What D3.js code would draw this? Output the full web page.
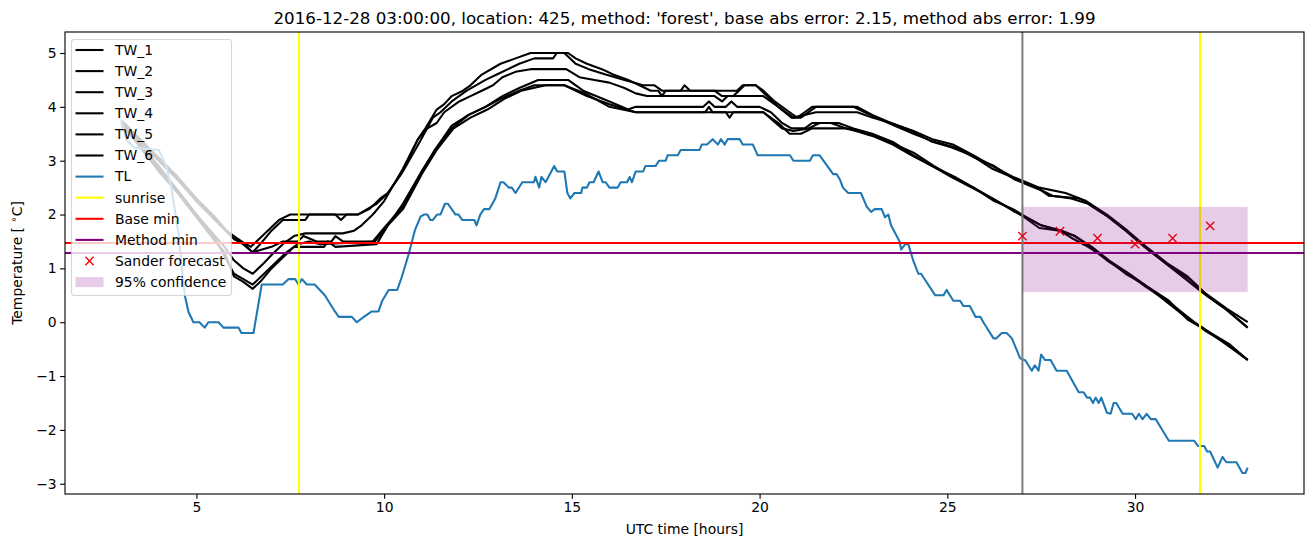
<!DOCTYPE html>
<html><head><meta charset="utf-8">
<script src="https://cdn.jsdelivr.net/npm/d3@7"></script>
<style>
body{margin:0;background:#fff}
svg text{font-family:"DejaVu Sans",sans-serif;fill:#000}
</style>
</head><body>
<svg id="chart" width="1313" height="547"></svg>
<script>
// ---------------- data ----------------
const titleText = "2016-12-28 03:00:00, location: 425, method: 'forest', base abs error: 2.15, method abs error: 1.99";
const xTicks = [5, 10, 15, 20, 25, 30];
const yTicks = [-3, -2, -1, 0, 1, 2, 3, 4, 5];

const tw1 = [[3.0,3.75],[3.5,3.4],[4.0,3.05],[4.5,2.7],[5.0,2.3],[5.5,1.95],[5.8,1.7],[6.0,1.6],[6.2,1.5],[6.45,1.4],[6.6,1.5],[6.9,1.7],[7.2,1.9],[7.5,2.0],[8.7,2.0],[8.85,1.9],[9.0,2.0],[9.3,2.0],[9.6,2.1],[9.9,2.3],[10.1,2.4],[10.45,2.75],[10.9,3.4],[11.1,3.6],[11.4,3.95],[11.6,4.05],[11.8,4.2],[12.1,4.3],[12.3,4.4],[12.6,4.6],[13.1,4.8],[13.5,4.9],[13.9,5.0],[14.8,5.0],[15.1,4.8],[15.45,4.7],[15.9,4.6],[16.4,4.5],[16.9,4.4],[17.2,4.4],[17.4,4.3],[17.9,4.3],[18.0,4.4],[18.15,4.3],[19.4,4.3],[19.55,4.4],[19.9,4.4],[20.1,4.3],[20.4,4.1],[20.8,3.9],[21.0,3.8],[21.2,3.9],[21.4,4.0],[22.6,4.0],[23.0,3.85],[23.5,3.7],[24.1,3.55],[24.6,3.4],[25.15,3.3],[25.7,3.1],[26.2,2.9],[26.75,2.7],[27.1,2.6],[27.45,2.5],[28.15,2.4],[28.7,2.25],[29.25,2.0],[29.8,1.7],[30.3,1.4],[30.85,1.1],[31.4,0.85],[31.85,0.55],[32.45,0.25],[33.0,0.0]];
const tw2 = [[3.0,3.7],[3.5,3.35],[4.0,3.0],[4.5,2.65],[5.0,2.25],[5.5,1.9],[6.0,1.55],[6.25,1.45],[6.5,1.3],[6.7,1.45],[7.0,1.7],[7.3,1.9],[7.9,1.9],[8.0,2.0],[9.3,2.0],[9.55,2.1],[9.8,2.2],[10.1,2.4],[10.5,2.8],[10.95,3.35],[11.3,3.8],[11.5,3.9],[11.8,4.1],[12.2,4.3],[12.7,4.5],[13.0,4.6],[13.3,4.7],[13.6,4.8],[14.0,4.9],[14.5,4.9],[14.6,5.0],[14.9,5.0],[15.1,4.9],[15.4,4.8],[15.8,4.7],[16.1,4.6],[16.5,4.5],[16.8,4.4],[17.1,4.3],[17.3,4.3],[17.4,4.2],[17.5,4.3],[18.8,4.3],[19.0,4.2],[19.3,4.2],[19.45,4.3],[19.6,4.4],[19.9,4.4],[20.2,4.2],[20.5,4.0],[20.85,3.8],[21.1,3.8],[21.5,4.0],[22.5,4.0],[22.8,3.9],[23.1,3.8],[23.6,3.65],[24.1,3.5],[24.65,3.35],[25.2,3.25],[25.75,3.05],[26.25,2.9],[26.8,2.65],[27.15,2.55],[27.5,2.45],[27.8,2.35],[28.3,2.3],[28.75,2.2],[29.3,1.95],[29.85,1.65],[30.35,1.35],[30.9,1.05],[31.45,0.8],[31.9,0.5],[32.5,0.2],[33.0,-0.1]];
const tw3 = [[3.0,3.65],[3.5,3.3],[4.0,2.9],[4.5,2.45],[5.0,2.0],[5.5,1.6],[5.75,1.4],[6.0,1.15],[6.25,1.0],[6.5,0.9],[6.8,1.1],[7.0,1.25],[7.3,1.45],[7.6,1.6],[7.9,1.65],[8.9,1.65],[9.2,1.7],[9.4,1.8],[9.7,2.0],[10.0,2.25],[10.5,2.85],[10.9,3.4],[11.15,3.6],[11.4,3.7],[11.6,3.9],[12.0,4.1],[12.3,4.2],[12.6,4.3],[12.9,4.4],[13.15,4.55],[13.5,4.65],[13.9,4.7],[14.85,4.7],[15.2,4.55],[15.6,4.5],[16.0,4.45],[16.4,4.35],[16.7,4.25],[17.0,4.2],[18.8,4.2],[19.0,4.1],[19.15,4.2],[20.1,4.2],[20.5,4.0],[20.9,3.8],[21.2,3.85],[21.5,3.9],[22.6,3.9],[23.0,3.8],[23.5,3.7],[24.05,3.55],[24.6,3.35],[25.1,3.25],[25.65,3.1],[26.2,2.85],[26.7,2.7],[27.05,2.6],[27.4,2.5],[27.7,2.35],[28.5,2.3],[28.65,2.25],[29.2,2.0],[29.75,1.7],[30.25,1.4],[30.8,1.1],[31.35,0.8],[31.8,0.55],[32.4,0.25],[33.0,-0.1]];
const tw4 = [[3.0,3.75],[3.5,3.4],[4.0,3.0],[4.5,2.65],[5.0,2.25],[5.5,1.9],[6.0,1.55],[6.25,1.45],[6.5,1.3],[6.75,1.35],[7.0,1.4],[7.3,1.5],[7.7,1.5],[7.85,1.6],[8.2,1.5],[8.6,1.5],[8.7,1.6],[8.9,1.5],[9.7,1.5],[10.0,1.75],[10.5,2.15],[11.0,2.8],[11.35,3.2],[11.8,3.6],[12.25,3.85],[12.7,4.0],[13.15,4.2],[13.6,4.35],[14.1,4.5],[14.9,4.5],[15.3,4.3],[16.0,4.1],[16.5,3.95],[16.7,4.0],[18.5,4.0],[18.65,4.1],[18.8,4.0],[19.1,4.0],[19.25,4.1],[19.4,4.0],[20.0,4.0],[20.3,3.9],[20.6,3.7],[20.85,3.6],[21.2,3.6],[21.4,3.7],[21.9,3.7],[22.3,3.6],[22.85,3.5],[23.1,3.45],[23.6,3.3],[24.1,3.15],[24.65,2.9],[25.15,2.7],[25.7,2.5],[26.25,2.25],[26.75,2.1],[27.1,1.95],[27.5,1.8],[28.0,1.7],[28.4,1.6],[28.8,1.4],[29.25,1.15],[29.8,0.9],[30.3,0.65],[30.85,0.4],[31.4,0.1],[31.85,-0.15],[32.45,-0.4],[33.0,-0.7]];
const tw5 = [[3.0,3.7],[3.5,3.25],[4.0,2.8],[4.5,2.4],[5.0,1.95],[5.5,1.5],[5.75,1.3],[6.0,0.85],[6.25,0.75],[6.5,0.62],[6.7,0.75],[7.0,1.0],[7.3,1.2],[7.6,1.4],[8.4,1.4],[8.5,1.5],[8.7,1.4],[9.8,1.45],[10.1,1.8],[10.5,2.1],[11.0,2.75],[11.4,3.2],[11.85,3.6],[12.3,3.8],[12.75,3.95],[13.2,4.15],[13.65,4.3],[14.3,4.4],[14.8,4.4],[15.4,4.2],[16.0,4.05],[16.7,3.9],[19.1,3.9],[19.2,3.8],[19.3,3.9],[20.1,3.9],[20.5,3.7],[20.8,3.5],[21.1,3.5],[21.4,3.6],[22.4,3.6],[22.8,3.5],[23.05,3.45],[23.55,3.3],[24.05,3.1],[24.6,2.9],[25.1,2.7],[25.65,2.5],[26.2,2.3],[26.7,2.1],[27.05,1.95],[27.45,1.75],[28.0,1.7],[28.35,1.55],[28.75,1.4],[29.2,1.2],[29.75,0.9],[30.25,0.7],[30.8,0.4],[31.35,0.1],[31.8,-0.1],[32.4,-0.4],[33.0,-0.7]];
const tw6 = [[3.0,3.72],[3.5,3.3],[4.0,2.85],[4.5,2.45],[5.0,2.0],[5.5,1.55],[6.0,0.9],[6.25,0.8],[6.5,0.7],[6.8,0.9],[7.1,1.1],[7.4,1.3],[7.7,1.45],[8.0,1.5],[8.3,1.45],[9.75,1.5],[10.05,1.75],[10.5,2.2],[11.0,2.8],[11.4,3.25],[11.8,3.65],[12.25,3.85],[12.7,4.0],[13.1,4.15],[13.6,4.3],[14.0,4.4],[14.8,4.4],[15.35,4.25],[16.0,4.0],[16.7,3.9],[18.55,3.9],[18.65,4.0],[18.75,3.9],[20.1,3.9],[20.6,3.6],[20.9,3.55],[21.3,3.6],[21.6,3.7],[22.1,3.7],[22.5,3.6],[23.0,3.5],[23.55,3.35],[24.1,3.1],[24.6,2.9],[25.2,2.7],[25.7,2.5],[26.2,2.3],[26.8,2.05],[27.1,1.95],[27.5,1.8],[28.05,1.7],[28.4,1.6],[28.85,1.4],[29.3,1.15],[29.85,0.9],[30.35,0.65],[30.9,0.4],[31.4,0.05],[31.9,-0.15],[32.5,-0.4],[33.0,-0.7]];
const tl = [[3.0,3.76],[3.13,3.39],[3.35,3.24],[4.0,3.2],[4.2,2.89],[4.33,2.51],[4.52,1.66],[4.65,0.72],[4.7,0.47],[4.79,0.19],[4.92,0.0],[5.08,0.0],[5.22,-0.1],[5.32,0.0],[5.59,0.0],[5.72,-0.1],[6.12,-0.1],[6.2,-0.2],[6.52,-0.2],[6.74,0.7],[6.95,0.7],[7.3,0.7],[7.45,0.8],[7.63,0.8],[7.72,0.7],[7.81,0.8],[7.94,0.7],[8.15,0.7],[8.42,0.5],[8.69,0.2],[8.79,0.1],[9.14,0.1],[9.27,0.0],[9.46,0.1],[9.67,0.2],[9.85,0.2],[9.95,0.4],[10.12,0.6],[10.35,0.6],[10.47,0.84],[10.66,1.28],[10.82,1.71],[10.97,1.96],[11.06,2.0],[11.15,2.0],[11.23,1.9],[11.3,1.9],[11.41,2.0],[11.5,2.0],[11.62,2.2],[11.7,2.2],[11.9,2.0],[11.98,2.0],[12.08,1.9],[12.4,1.9],[12.46,1.8],[12.56,2.0],[12.66,2.1],[12.8,2.1],[12.96,2.3],[13.1,2.6],[13.18,2.6],[13.32,2.5],[13.4,2.5],[13.5,2.4],[13.68,2.6],[13.99,2.6],[14.03,2.7],[14.13,2.5],[14.19,2.7],[14.3,2.6],[14.53,2.9],[14.61,2.8],[14.8,2.8],[14.88,2.4],[14.96,2.3],[15.07,2.4],[15.25,2.4],[15.28,2.5],[15.4,2.5],[15.47,2.6],[15.58,2.6],[15.71,2.8],[15.82,2.6],[15.9,2.6],[16.0,2.5],[16.22,2.5],[16.3,2.6],[16.47,2.6],[16.54,2.7],[16.6,2.6],[16.7,2.8],[16.9,2.8],[16.96,2.9],[17.23,2.9],[17.32,3.0],[17.5,3.0],[17.55,3.1],[17.82,3.1],[17.9,3.2],[18.4,3.2],[18.46,3.3],[18.6,3.3],[18.75,3.4],[18.89,3.3],[18.97,3.4],[19.07,3.3],[19.15,3.4],[19.47,3.4],[19.55,3.3],[19.82,3.3],[19.95,3.1],[20.81,3.1],[20.9,3.0],[21.34,3.0],[21.42,3.1],[21.6,3.1],[21.7,3.0],[21.96,2.75],[22.05,2.75],[22.14,2.65],[22.22,2.5],[22.36,2.4],[22.7,2.4],[22.85,2.15],[22.97,2.05],[23.07,2.1],[23.25,2.1],[23.34,1.95],[23.43,2.0],[23.5,1.8],[23.73,1.5],[23.77,1.35],[23.88,1.45],[23.96,1.45],[24.09,1.15],[24.23,0.9],[24.3,0.9],[24.68,0.5],[24.9,0.5],[24.98,0.6],[25.16,0.4],[25.34,0.4],[25.43,0.3],[25.6,0.3],[25.75,0.1],[25.88,0.1],[25.96,0.0],[26.23,-0.3],[26.3,-0.3],[26.45,-0.2],[26.58,-0.2],[26.72,-0.3],[26.94,-0.67],[27.08,-0.71],[27.25,-0.9],[27.33,-0.8],[27.43,-0.9],[27.5,-0.6],[27.6,-0.7],[27.75,-0.7],[27.91,-0.9],[28.18,-0.9],[28.5,-1.3],[28.63,-1.3],[28.72,-1.4],[28.8,-1.4],[28.88,-1.5],[28.95,-1.4],[29.03,-1.5],[29.1,-1.4],[29.25,-1.68],[29.35,-1.7],[29.43,-1.5],[29.5,-1.5],[29.67,-1.7],[29.92,-1.7],[30.02,-1.8],[30.1,-1.7],[30.2,-1.8],[30.31,-1.7],[30.42,-1.8],[30.55,-1.8],[30.69,-1.96],[30.9,-2.2],[31.57,-2.2],[31.68,-2.3],[31.84,-2.3],[31.92,-2.4],[32.0,-2.4],[32.2,-2.7],[32.33,-2.5],[32.43,-2.6],[32.7,-2.6],[32.86,-2.8],[32.94,-2.8],[33.0,-2.7]];

const sunriseHours = [7.73, 31.73];
const baseMin = 1.47;
const methodMin = 1.285;
const forecastHour = 27;
const sanderHours = [27, 28, 29, 30, 31, 32];
const sanderValues = [1.60, 1.69, 1.56, 1.45, 1.56, 1.79];
const confHours = [27, 33];
const confRange = [0.56, 2.14];

const legendLabels = ["TW_1","TW_2","TW_3","TW_4","TW_5","TW_6","TL","sunrise","Base min","Method min","Sander forecast","95% confidence"];

// ---------------- drawing ----------------
const svg = d3.select("#chart");
const L = 65, R = 1304, T = 32, B = 494;
const LW = 2.08;
const x = d3.scaleLinear().domain([1.5, 34.5]).range([L, R]);
const y = d3.scaleLinear().domain([-3.19, 5.39]).range([B, T]);

svg.append("defs").append("clipPath").attr("id","clip")
  .append("rect").attr("x",L).attr("y",T).attr("width",R-L).attr("height",B-T);
const plot = svg.append("g").attr("clip-path","url(#clip)");

const line = d3.line().x(d => x(d[0])).y(d => y(d[1]));
const twSeries = [tw1, tw2, tw3, tw4, tw5, tw6];
twSeries.forEach(s => {
  plot.append("path").datum(s).attr("d", line)
    .attr("fill","none").attr("stroke","#000").attr("stroke-width",LW)
    .attr("stroke-linejoin","round");
});
plot.append("path").datum(tl).attr("d", line)
  .attr("fill","none").attr("stroke","#1f77b4").attr("stroke-width",LW)
  .attr("stroke-linejoin","round");

sunriseHours.forEach(h => {
  plot.append("line").attr("x1",x(h)).attr("x2",x(h)).attr("y1",T).attr("y2",B)
    .attr("stroke","#ffff00").attr("stroke-width",LW);
});
plot.append("line").attr("x1",L).attr("x2",R).attr("y1",y(baseMin)).attr("y2",y(baseMin))
  .attr("stroke","#ff0000").attr("stroke-width",LW);
plot.append("line").attr("x1",L).attr("x2",R).attr("y1",y(methodMin)).attr("y2",y(methodMin))
  .attr("stroke","#800080").attr("stroke-width",LW);
plot.append("line").attr("x1",x(forecastHour)).attr("x2",x(forecastHour)).attr("y1",T).attr("y2",B)
  .attr("stroke","#808080").attr("stroke-width",LW);

const mk = 4.17;
sanderHours.forEach((h,i) => {
  const cx = x(h), cy = y(sanderValues[i]);
  plot.append("path").attr("d",`M${cx-mk},${cy-mk}L${cx+mk},${cy+mk}M${cx-mk},${cy+mk}L${cx+mk},${cy-mk}`)
    .attr("stroke","#ff0000").attr("stroke-width",1.39).attr("fill","none");
});
plot.append("rect").attr("x",x(confHours[0])).attr("width",x(confHours[1])-x(confHours[0]))
  .attr("y",y(confRange[1])).attr("height",y(confRange[0])-y(confRange[1]))
  .attr("fill","#800080").attr("fill-opacity",0.2);

// axes
const xAxis = svg.append("g").attr("transform",`translate(0,${B})`)
  .call(d3.axisBottom(x).tickValues(xTicks).tickSize(4.86).tickPadding(3.5).tickFormat(d3.format("d")));
const yAxis = svg.append("g").attr("transform",`translate(${L},0)`)
  .call(d3.axisLeft(y).tickValues(yTicks).tickSize(4.86).tickPadding(3.5).tickFormat(d => d < 0 ? "\u2212" + Math.abs(d) : String(d)));
[xAxis, yAxis].forEach(a => {
  a.select(".domain").remove();
  a.selectAll(".tick line").attr("stroke","#000").attr("stroke-width",1.11);
  a.selectAll(".tick text").attr("font-size","13.9px").attr("font-family","DejaVu Sans").attr("fill","#000");
});
svg.append("rect").attr("x",L).attr("y",T).attr("width",R-L).attr("height",B-T)
  .attr("fill","none").attr("stroke","#000").attr("stroke-width",1.11);

// labels
svg.append("text").attr("x",(L+R)/2).attr("y",24).attr("text-anchor","middle")
  .attr("font-size","16.7px").text(titleText);
svg.append("text").attr("x",(L+R)/2).attr("y",534).attr("text-anchor","middle")
  .attr("font-size","13.9px").text("UTC time [hours]");
const yl = svg.append("text").attr("transform",`translate(22,${(T+B)/2}) rotate(-90)`)
  .attr("text-anchor","middle").attr("font-size","13.9px");
yl.append("tspan").text("Temperature [ ");
yl.append("tspan").attr("dy",-5).attr("font-size","10px").text("\u2218");
yl.append("tspan").attr("dy",5).text("C]");

// legend
const lg = svg.append("g");
lg.append("rect").attr("x",71.5).attr("y",39.5).attr("width",160).attr("height",256).attr("rx",3)
  .attr("fill","#fff").attr("fill-opacity",0.8).attr("stroke","#cccccc").attr("stroke-opacity",0.8).attr("stroke-width",1.11);
const rowY0 = 50, rowDy = 21.1;
const lineColors = ["#000","#000","#000","#000","#000","#000","#1f77b4","#ffff00","#ff0000","#800080"];
legendLabels.forEach((lab,i) => {
  const cy = rowY0 + i*rowDy;
  if (i < 10) {
    lg.append("line").attr("x1",75.5).attr("x2",103.5).attr("y1",cy).attr("y2",cy)
      .attr("stroke",lineColors[i]).attr("stroke-width",LW);
  } else if (i === 10) {
    const cx = 89.5;
    lg.append("path").attr("d",`M${cx-mk},${cy-mk}L${cx+mk},${cy+mk}M${cx-mk},${cy+mk}L${cx+mk},${cy-mk}`)
      .attr("stroke","#ff0000").attr("stroke-width",1.39);
  } else {
    lg.append("rect").attr("x",75.5).attr("y",cy-5).attr("width",28).attr("height",10)
      .attr("fill","#800080").attr("fill-opacity",0.2);
  }
  lg.append("text").attr("x",115).attr("y",cy).attr("dy","0.35em").attr("font-size","13.9px").text(lab);
});
</script>
</body></html>
